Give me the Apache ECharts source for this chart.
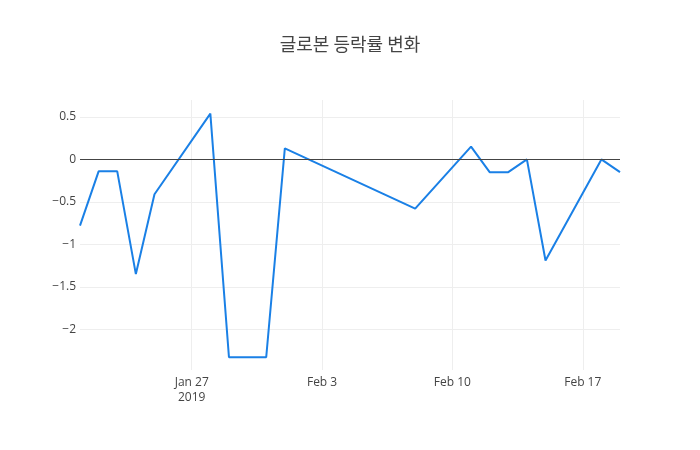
<!DOCTYPE html>
<html>
<head>
<meta charset="UTF-8"/>
<script src="https://cdn.jsdelivr.net/npm/echarts@6/dist/echarts.min.js"></script>
<style type="text/css">
	html, body { margin:0; padding:0; background:#fff; }
	#chart { width:700px; height:450px; }
</style>
</head>
<body>
<div id="chart"></div>
<script type="text/javascript">
// 거래일 (trading days)
var dates = ['2019-01-21','2019-01-22','2019-01-23','2019-01-24','2019-01-25',
	'2019-01-28','2019-01-29','2019-01-30','2019-01-31','2019-02-01',
	'2019-02-08','2019-02-11','2019-02-12','2019-02-13','2019-02-14',
	'2019-02-15','2019-02-18','2019-02-19'];
// 등락률 (%)
var changes = [-0.78, -0.14, -0.14, -1.35, -0.41,
	0.54, -2.33, -2.33, -2.33, 0.13,
	-0.58, 0.15, -0.15, -0.15, 0,
	-1.19, 0, -0.15];
var xTicks = ['2019-01-27','2019-02-03','2019-02-10','2019-02-17'];
var yTicks = [-2, -1.5, -1, -0.5, 0, 0.5];
var titleText = '글로본 등락률 변화';

function toTs(s){
	var p = s.split('-');
	return Date.UTC(+p[0], +p[1]-1, +p[2]);
}
var monthNames = ['Jan','Feb','Mar','Apr','May','Jun','Jul','Aug','Sep','Oct','Nov','Dec'];

var seriesData = [];
for(var i=0;i<dates.length;i++){
	seriesData.push([toTs(dates[i]), changes[i]]);
}
var xTickTs = [];
for(var i=0;i<xTicks.length;i++){
	xTickTs.push(toTs(xTicks[i]));
}

var font = '"Open Sans", "Noto Sans CJK KR", sans-serif';
var myChart = echarts.init(document.getElementById('chart'));
var option = {
	backgroundColor:'#fff',
	animation:false,
	title:{
		text:titleText,
		left:'center',
		top:30,
		textStyle:{ fontFamily:'"Noto Sans CJK KR", "Open Sans", sans-serif', fontSize:18, fontWeight:'normal', color:'#444' }
	},
	grid:{ left:80, right:80, top:100, bottom:80, containLabel:false },
	xAxis:{
		type:'value',
		min:toTs(dates[0]),
		max:toTs(dates[dates.length-1]),
		axisLine:{ show:false },
		axisTick:{ show:false, customValues:xTickTs },
		splitLine:{ show:true, lineStyle:{ color:'#eee', width:1 } },
		axisLabel:{
			customValues:xTickTs,
			margin:5,
			fontFamily:font,
			fontSize:12,
			color:'#444',
			lineHeight:15,
			formatter:function(v){
				var d = new Date(v);
				var s = monthNames[d.getUTCMonth()] + ' ' + d.getUTCDate();
				if(v === xTickTs[0]){ s += '\n' + d.getUTCFullYear(); }
				return s;
			}
		}
	},
	yAxis:{
		type:'value',
		min:-2.48,
		max:0.70,
		axisLine:{ show:false },
		axisTick:{ show:false, customValues:yTicks },
		splitLine:{ show:true, lineStyle:{ color:'#eee', width:1 } },
		axisLabel:{
			customValues:yTicks,
			margin:4,
			fontFamily:font,
			fontSize:12,
			color:'#444',
			formatter:function(v){
				return v < 0 ? '\u2212' + Math.abs(v) : String(v);
			}
		}
	},
	series:[{
		type:'line',
		data:seriesData,
		showSymbol:false,
		symbol:'none',
		lineStyle:{ color:'#1a80e6', width:2 },
		markLine:{
			silent:true,
			symbol:['none','none'],
			label:{ show:false },
			lineStyle:{ color:'#444', width:1, type:'solid' },
			data:[{ yAxis:0 }]
		},
		z:3
	}]
};
myChart.setOption(option);
</script>
</body>
</html>
